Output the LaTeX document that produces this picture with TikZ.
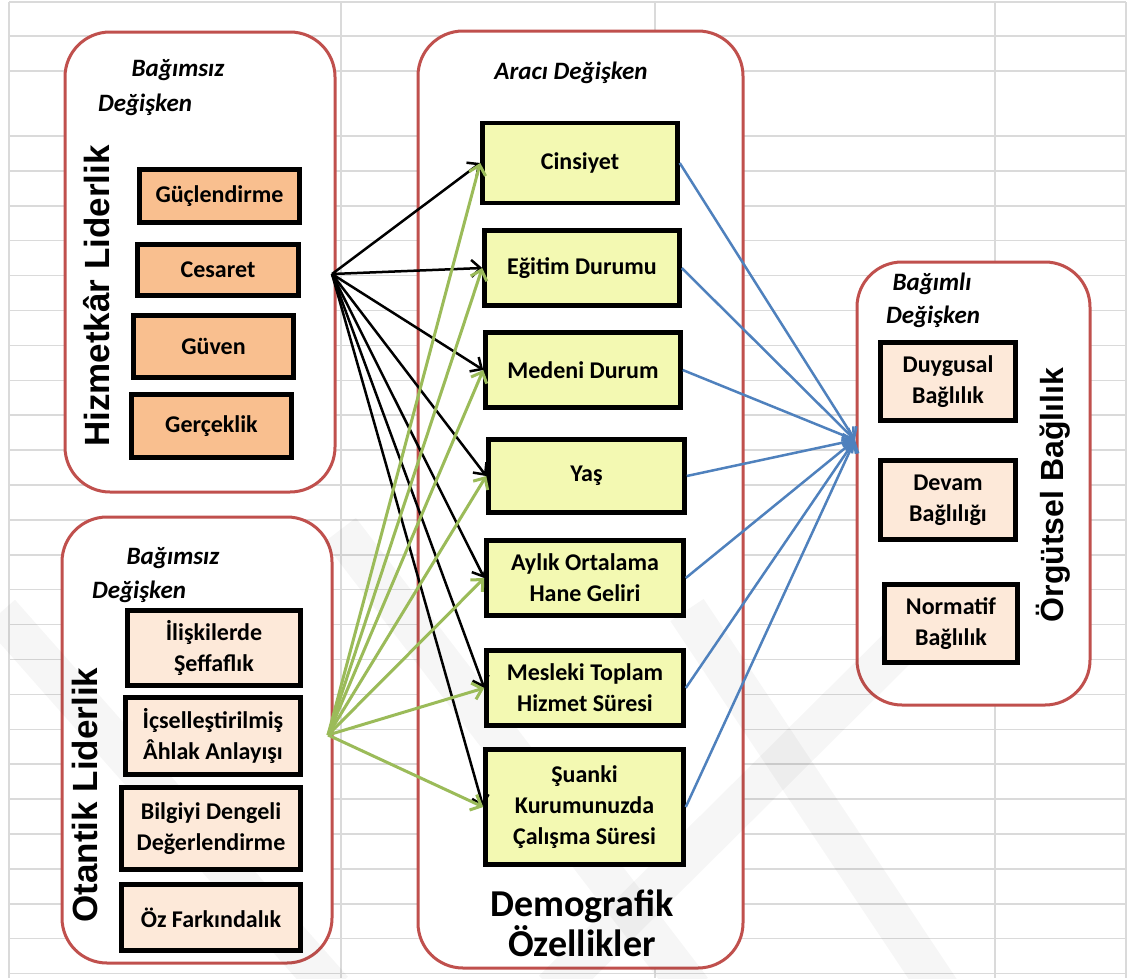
\documentclass[tikz,border=0pt]{standalone}
\usepackage{fontspec}
\setmainfont{Carlito}
\newfontfamily\arialfont{Liberation Sans}
\usetikzlibrary{arrows.meta}

\definecolor{kirmizi}{HTML}{C0504D}
\definecolor{turuncu}{HTML}{F9BF8F}
\definecolor{pembe}{HTML}{FDE9D9}
\definecolor{sari}{HTML}{F3F9B2}
\definecolor{yesil}{HTML}{9BBB59}
\definecolor{mavi}{HTML}{4F81BD}
\definecolor{izgara}{HTML}{DADADA}

\tikzset{
  panel/.style={draw=kirmizi,line width=3pt,rounded corners=45pt,fill=white},
  kutu/.style={draw=black,line width=4.5pt,align=center,inner sep=0pt,
    font=\fontsize{24}{31}\selectfont\bfseries},
  degisken/.style={font=\fontsize{25}{30}\selectfont\bfseries\itshape},
  baslik/.style={rotate=90,font=\arialfont\fontsize{35}{40}\selectfont\bfseries},
  ok/.style={line width=2.5pt,-{Straight Barb[length=9pt,width=17pt]}},
  filigran/.style={black,opacity=0.035,line width=40pt},
}

\begin{document}
\begin{tikzpicture}[x=1pt,y=-1pt]
\useasboundingbox (0,0) rectangle (1128,978);
\fill[white] (0,0) rectangle (1128,978);
%% spreadsheet grid in the background
\foreach \y in {2,36,71} \draw[izgara,line width=1.5pt] (9,\y) -- (1126,\y);
\foreach \k in {0,...,24} \draw[izgara,line width=1.5pt] (9,{136+34.9*\k}) -- (1126,{136+34.9*\k});
\foreach \x in {9,341,655,995,1126} \draw[izgara,line width=1.5pt] (\x,2) -- (\x,978);

%% panels
\draw[panel] (65,32) rectangle (335,492);
\draw[panel] (62,517) rectangle (332,963);
\draw[panel] (418,31) rectangle (743,968);
\draw[panel] (857,262) rectangle (1090,705);

%% faint watermark
\begin{scope}
\clip (0,0) rectangle (1128,978);
\draw[filigran] (0,613) -- (333,990);
\draw[filigran] (340,530) -- (692,990);
\draw[filigran] (553,990) -- (935,611);
\draw[filigran] (687,610) -- (940,990);
\end{scope}

%% Hizmetkar Liderlik
\node[degisken] (bag1) at (178,70) {Bağımsız};
\node[degisken] (deg1) at (145,105) {Değişken};
\node[baslik] (hizmet) at (97,296) {Hizmetkâr Liderlik};
\node[kutu,fill=turuncu,minimum width=160pt,minimum height=53pt] (guc) at (219.5,196) {Güçlendirme};
\node[kutu,fill=turuncu,minimum width=161pt,minimum height=51pt] (ces) at (218,270) {Cesaret};
\node[kutu,fill=turuncu,minimum width=160pt,minimum height=62pt] (guv) at (213.5,346.5) {Güven};
\node[kutu,fill=turuncu,minimum width=160pt,minimum height=63pt] (ger) at (211.5,426) {Gerçeklik};

%% Otantik Liderlik
\node[degisken] (bag2) at (173,558) {Bağımsız};
\node[degisken] (deg2) at (139,592) {Değişken};
\node[baslik] (otantik) at (85,795) {Otantik Liderlik};
\node[kutu,fill=pembe,minimum width=173pt,minimum height=75pt] (ilis) at (214,648) {İlişkilerde\\Şeffaflık};
\node[kutu,fill=pembe,minimum width=175pt,minimum height=77pt] (icse) at (213,736) {İçselleştirilmiş\\Âhlak Anlayışı};
\node[kutu,fill=pembe,minimum width=179pt,minimum height=82pt] (bilg) at (211,828.5) {Bilgiyi Dengeli\\Değerlendirme};
\node[kutu,fill=pembe,minimum width=179pt,minimum height=66pt] (ozfa) at (211,917.5) {Öz Farkındalık};

%% Demografik Ozellikler
\node[degisken] (araci) at (571,73) {Aracı Değişken};
\node[kutu,fill=sari,minimum width=195pt,minimum height=80pt] (cins) at (580,163) {Cinsiyet};
\node[kutu,fill=sari,minimum width=195pt,minimum height=75pt] (egit) at (582,268) {Eğitim Durumu};
\node[kutu,fill=sari,minimum width=195pt,minimum height=75pt] (mede) at (583,370) {Medeni Durum};
\node[kutu,fill=sari,minimum width=196pt,minimum height=73pt] (yas) at (586.5,476) {Yaş};
\node[kutu,fill=sari,minimum width=197pt,minimum height=75pt] (ayli) at (585,578) {Aylık Ortalama\\Hane Geliri};
\node[kutu,fill=sari,minimum width=197pt,minimum height=75pt] (mesl) at (585,688) {Mesleki Toplam\\Hizmet Süresi};
\node[kutu,fill=sari,minimum width=198pt,minimum height=115pt] (suan) at (584.5,807) {Şuanki\\Kurumunuzda\\Çalışma Süresi};
\node[align=center,font=\fontsize{38}{40}\selectfont\bfseries] (demo) at (582,923) {Demografik\\Özellikler};

%% Orgutsel Baglilik
\node[degisken] (bag3) at (932,284) {Bağımlı};
\node[degisken] (deg3) at (933,317) {Değişken};
\node[baslik,font=\arialfont\fontsize{32}{36}\selectfont\bfseries] (orgut) at (1053,495) {Örgütsel Bağlılık};
\node[kutu,fill=pembe,minimum width=135pt,minimum height=78pt] (duyg) at (948,381.5) {Duygusal\\Bağlılık};
\node[kutu,fill=pembe,minimum width=135pt,minimum height=79pt] (deva) at (948,500) {Devam\\Bağlılığı};
\node[kutu,fill=pembe,minimum width=133pt,minimum height=78pt] (norm) at (951,623.5) {Normatif\\Bağlılık};

%% arrows
\coordinate (hkaynak) at (332,274);
\coordinate (okaynak) at (328,735);
\coordinate (hedef) at (855,440);
\foreach \t in {cins,egit,mede,yas,ayli,mesl,suan}
  \draw[ok,black] (hkaynak) -- (\t.west);
\foreach \t in {cins,egit,mede,yas,ayli,mesl,suan}
  \draw[ok,yesil,line width=3pt] (okaynak) -- (\t.west);
\foreach \t in {cins,egit,mede,yas,ayli,mesl,suan}
  \draw[ok,mavi] (\t.east) -- (hedef);
\end{tikzpicture}
\end{document}
